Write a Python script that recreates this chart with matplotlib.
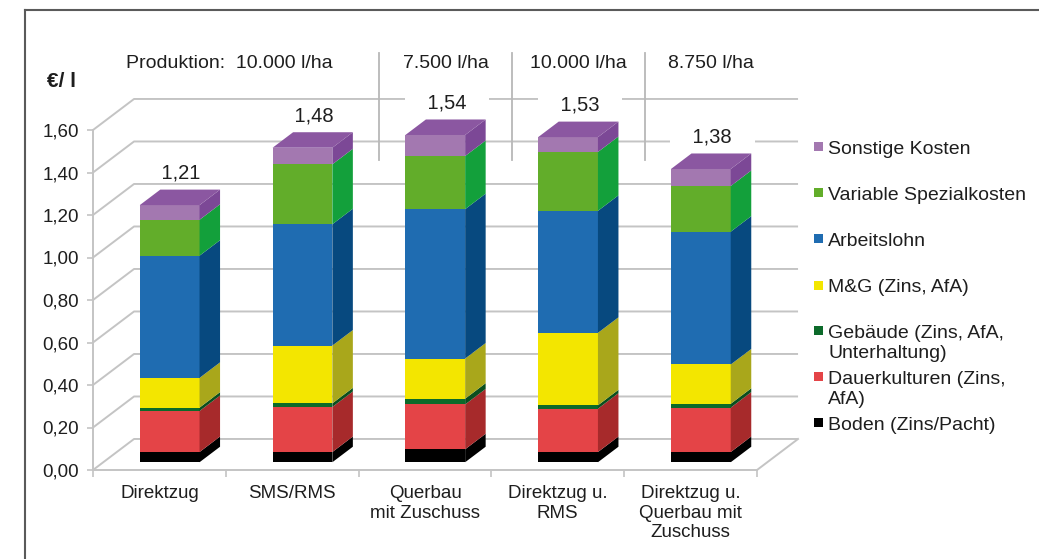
import matplotlib
matplotlib.use("Agg")
import matplotlib.pyplot as plt
import numpy as np
from matplotlib.patches import Polygon, Rectangle
from matplotlib.lines import Line2D

plt.rcParams["font.family"] = ["Liberation Sans", "DejaVu Sans"]

# ── Data (€/l, stacked from bottom to top) ───────────────────────────────────
categories = ["Direktzug", "SMS/RMS", "Querbau\nmit Zuschuss",
              "Direktzug u.\nRMS", "Direktzug u.\nQuerbau mit\nZuschuss"]
series_names = ["Boden (Zins/Pacht)", "Dauerkulturen (Zins,\nAfA)",
                "Gebäude (Zins, AfA,\nUnterhaltung)", "M&G (Zins, AfA)",
                "Arbeitslohn", "Variable Spezialkosten", "Sonstige Kosten"]
boden = [0.048, 0.048, 0.061, 0.048, 0.048]
dauerkulturen = [0.193, 0.212, 0.211, 0.204, 0.209]
gebaeude = [0.016, 0.017, 0.027, 0.016, 0.018]
mg = [0.140, 0.272, 0.189, 0.341, 0.185]
arbeitslohn = [0.575, 0.571, 0.703, 0.574, 0.625]
variable = [0.169, 0.282, 0.250, 0.277, 0.215]
sonstige = [0.069, 0.078, 0.099, 0.070, 0.080]
production = ["Produktion:  10.000 l/ha", "7.500 l/ha", "10.000 l/ha", "8.750 l/ha"]
yticks = [0.0, 0.2, 0.4, 0.6, 0.8, 1.0, 1.2, 1.4, 1.6]

series = [boden, dauerkulturen, gebaeude, mg, arbeitslohn, variable, sonstige]
front_colors = ["#000000", "#e44447", "#0c6a2a", "#f3e600", "#1f6cb1", "#62ad2a", "#a378b0"]
side_colors = ["#000000", "#a72a2b", "#0a4f1f", "#a9a71b", "#07497f", "#13a03b", "#7c4896"]
top_color = "#8b57a1"
GRID = "#c4c4c4"
TXT = "#1e1e1e"

W_PX, H_PX = 1039, 559
DX, DY = 0.309, 0.146      # full depth offset in data units
W = 0.45                   # bar width
BASE = DY / 4              # bars sit at quarter depth

fig = plt.figure(figsize=(W_PX / 100, H_PX / 100), dpi=100)
ax = fig.add_axes([93 / W_PX, (H_PX - 470) / H_PX, 664 / W_PX, 340 / H_PX])
ax.set_xlim(0, 5)
ax.set_ylim(0, 1.6)
ax.patch.set_alpha(0)

# ── Back wall, floor ─────────────────────────────────────────────────────────
for v in yticks:
    ax.plot([0, DX, 5 + DX], [v, v + DY, v + DY], color=GRID, lw=1.4,
            clip_on=False, zorder=1, solid_capstyle="butt")
ax.plot([5, 5 + DX], [0, DY], color=GRID, lw=1.4, clip_on=False, zorder=1)

for side in ["top", "right"]:
    ax.spines[side].set_visible(False)
for side in ["left", "bottom"]:
    ax.spines[side].set_color(GRID)
    ax.spines[side].set_linewidth(1.4)

ax.set_yticks(yticks)
ax.set_yticklabels([f"{v:.2f}".replace(".", ",") for v in yticks])
ax.tick_params(axis="y", length=4, width=1.2, color=GRID, pad=6,
               labelsize=13.5, labelcolor=TXT)
ax.set_xticks(range(6))
ax.set_xticklabels([""] * 6)
ax.tick_params(axis="x", which="major", length=5, width=1.2, color=GRID)
ax.set_xticks(np.arange(5) + 0.5, minor=True)
ax.set_xticklabels(categories, minor=True)
ax.tick_params(axis="x", which="minor", length=0, pad=11,
               labelsize=13.5, labelcolor=TXT)

# ── 3D stacked bars ──────────────────────────────────────────────────────────
x_front = np.arange(5) + 0.5 + DX / 4
bottoms = np.full(5, BASE)
for k, vals in enumerate(series):
    vals = np.asarray(vals)
    ax.bar(x_front, vals, width=W, bottom=bottoms, color=front_colors[k],
           linewidth=0, zorder=3, clip_on=False)
    for i in range(5):
        xr = x_front[i] + W / 2
        b, t = bottoms[i], bottoms[i] + vals[i]
        ax.add_patch(Polygon([(xr, b), (xr + DX / 2, b + DY / 2),
                              (xr + DX / 2, t + DY / 2), (xr, t)],
                             closed=True, fc=side_colors[k], ec="none",
                             zorder=3, clip_on=False))
    bottoms = bottoms + vals

totals = bottoms - BASE
for i in range(5):
    xl, xr, t = x_front[i] - W / 2, x_front[i] + W / 2, bottoms[i]
    ax.add_patch(Polygon([(xl, t), (xr, t), (xr + DX / 2, t + DY / 2),
                          (xl + DX / 2, t + DY / 2)],
                         closed=True, fc=top_color, ec="none",
                         zorder=3, clip_on=False))
    label = f"{totals[i]:.2f}".replace(".", ",")
    ax.text(x_front[i] + DX / 4 + 0.01, t + DY / 2 + 0.077, f"    {label}    ",
            ha="center", va="center", fontsize=14.5, color=TXT, zorder=2,
            bbox=dict(fc="white", ec="none", pad=0), clip_on=False)

# ── Production header ────────────────────────────────────────────────────────
header_x = [1.03, 2.5 + DX / 2, 3.5 + DX / 2, 4.5 + DX / 2]
for x, txt in zip(header_x, production):
    ax.text(x, 1.915, txt, ha="center", va="center", fontsize=14,
            color=TXT, clip_on=False)
for i in [2, 3, 4]:
    ax.plot([i + DX / 2] * 2, [1.46, 1.962], color="#b8b8b8", lw=1.3,
            clip_on=False, zorder=1)

ax.text(-0.345, 1.83, "€/ l", ha="left", va="center", fontsize=15,
        fontweight="bold", color=TXT, clip_on=False)

# ── Legend (drawn by hand, top to bottom) ────────────────────────────────────
legend_y = [147, 193, 239, 286, 331, 377, 423]
for yc, name, col in zip(legend_y, series_names[::-1], front_colors[::-1]):
    fig.patches.append(Rectangle((814 / W_PX, 1 - (yc + 4) / H_PX),
                                 9 / W_PX, 9 / H_PX, fc=col, ec="none",
                                 transform=fig.transFigure))
    fig.text(828 / W_PX, 1 - (yc - 6.5) / H_PX, name, ha="left", va="top",
             fontsize=14, color=TXT, linespacing=1.25)

# ── Frame ────────────────────────────────────────────────────────────────────
fig.add_artist(Line2D([25 / W_PX, 1, 1], [1 - 10 / H_PX] * 3, color="#5a5a5a",
                      lw=1.5, transform=fig.transFigure))
fig.add_artist(Line2D([25 / W_PX, 25 / W_PX], [0, 1 - 10 / H_PX],
                      color="#5a5a5a", lw=1.5, transform=fig.transFigure))

fig.savefig("out.png", dpi=100)
